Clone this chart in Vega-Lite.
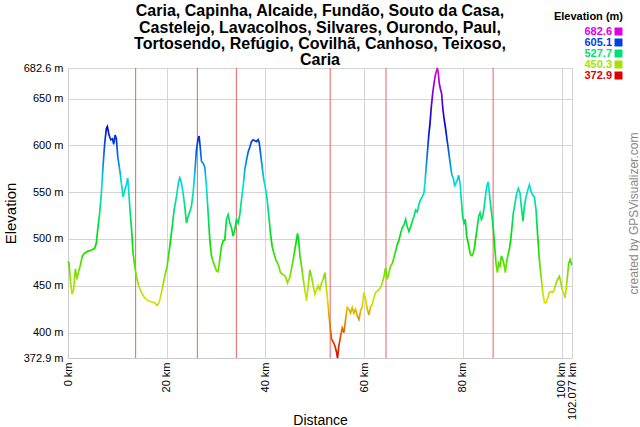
{
  "$schema": "https://vega.github.io/schema/vega-lite/v6.json",
  "width": 504,
  "height": 290,
  "autosize": {"type": "none"},
  "padding": {"left": 68, "top": 68, "right": 68, "bottom": 69},
  "background": "white",
  "config": {"font": "Liberation Sans", "view": {"stroke": null}},
  "title": {
    "text": ["Caria, Capinha, Alcaide, Fundão, Souto da Casa,", "Castelejo, Lavacolhos, Silvares, Ourondo, Paul,", "Tortosendo, Refúgio, Covilhã, Canhoso, Teixoso,", "Caria"],
    "fontSize": 16, "fontWeight": "bold", "font": "Liberation Sans", "color": "#000",
    "anchor": "middle", "frame": "group", "lineHeight": 16.2, "offset": 0, "dy": 57
  },
  "datasets": {
    "waypoints": [{"km": 13.7}, {"km": 26.2}, {"km": 34.1}, {"km": 53.1}, {"km": 64.4}, {"km": 86.1}],
    "legendvals": [{"v": 682.6}, {"v": 605.1}, {"v": 527.7}, {"v": 450.3}, {"v": 372.9}],
    "profile": [
      {"km": 0.0, "elev": 476}, {"km": 0.2, "elev": 474}, {"km": 0.47, "elev": 457}, {"km": 0.81, "elev": 441}, {"km": 1.15, "elev": 446},
      {"km": 1.49, "elev": 468}, {"km": 1.82, "elev": 457}, {"km": 2.09, "elev": 464}, {"km": 2.5, "elev": 472}, {"km": 2.91, "elev": 482},
      {"km": 3.38, "elev": 485}, {"km": 4.05, "elev": 487}, {"km": 4.73, "elev": 488}, {"km": 5.41, "elev": 490}, {"km": 5.74, "elev": 496},
      {"km": 6.08, "elev": 513}, {"km": 6.42, "elev": 528}, {"km": 6.76, "elev": 549}, {"km": 7.09, "elev": 577}, {"km": 7.43, "elev": 602},
      {"km": 7.77, "elev": 618}, {"km": 7.97, "elev": 620}, {"km": 8.31, "elev": 611}, {"km": 8.65, "elev": 606}, {"km": 8.99, "elev": 607},
      {"km": 9.26, "elev": 601}, {"km": 9.53, "elev": 611}, {"km": 9.8, "elev": 607}, {"km": 10.07, "elev": 588}, {"km": 10.47, "elev": 574},
      {"km": 10.81, "elev": 560}, {"km": 11.15, "elev": 545}, {"km": 11.49, "elev": 552}, {"km": 11.82, "elev": 558}, {"km": 12.09, "elev": 565},
      {"km": 12.3, "elev": 552}, {"km": 12.5, "elev": 535}, {"km": 12.84, "elev": 513}, {"km": 13.18, "elev": 485}, {"km": 13.51, "elev": 471},
      {"km": 13.85, "elev": 460}, {"km": 14.32, "elev": 450}, {"km": 14.86, "elev": 443}, {"km": 15.54, "elev": 437}, {"km": 16.22, "elev": 434},
      {"km": 16.89, "elev": 433}, {"km": 17.57, "elev": 432}, {"km": 18.04, "elev": 429}, {"km": 18.45, "elev": 432}, {"km": 18.78, "elev": 439},
      {"km": 19.12, "elev": 448}, {"km": 19.59, "elev": 460}, {"km": 20.07, "elev": 471}, {"km": 20.61, "elev": 492}, {"km": 21.08, "elev": 512},
      {"km": 21.49, "elev": 531}, {"km": 21.96, "elev": 545}, {"km": 22.36, "elev": 560}, {"km": 22.64, "elev": 565}, {"km": 22.97, "elev": 560},
      {"km": 23.31, "elev": 549}, {"km": 23.65, "elev": 535}, {"km": 23.99, "elev": 517}, {"km": 24.32, "elev": 524}, {"km": 24.66, "elev": 529},
      {"km": 25.0, "elev": 535}, {"km": 25.34, "elev": 549}, {"km": 25.68, "elev": 570}, {"km": 26.01, "elev": 595}, {"km": 26.35, "elev": 607},
      {"km": 26.55, "elev": 610}, {"km": 26.76, "elev": 599}, {"km": 27.03, "elev": 583}, {"km": 27.36, "elev": 581}, {"km": 27.7, "elev": 577},
      {"km": 28.04, "elev": 556}, {"km": 28.38, "elev": 528}, {"km": 28.72, "elev": 499}, {"km": 29.05, "elev": 482}, {"km": 29.39, "elev": 476},
      {"km": 29.73, "elev": 471}, {"km": 30.07, "elev": 466}, {"km": 30.41, "elev": 465}, {"km": 30.74, "elev": 478}, {"km": 31.08, "elev": 492},
      {"km": 31.42, "elev": 498}, {"km": 31.76, "elev": 499}, {"km": 32.09, "elev": 521}, {"km": 32.43, "elev": 526}, {"km": 32.77, "elev": 517},
      {"km": 33.11, "elev": 512}, {"km": 33.45, "elev": 503}, {"km": 33.78, "elev": 510}, {"km": 34.12, "elev": 521}, {"km": 34.46, "elev": 517},
      {"km": 34.8, "elev": 526}, {"km": 35.14, "elev": 542}, {"km": 35.47, "elev": 556}, {"km": 35.81, "elev": 574}, {"km": 36.15, "elev": 584},
      {"km": 36.49, "elev": 593}, {"km": 36.82, "elev": 598}, {"km": 37.16, "elev": 604}, {"km": 37.5, "elev": 606}, {"km": 37.84, "elev": 605},
      {"km": 38.18, "elev": 604}, {"km": 38.51, "elev": 606}, {"km": 38.72, "elev": 603}, {"km": 38.99, "elev": 592}, {"km": 39.32, "elev": 577},
      {"km": 39.66, "elev": 563}, {"km": 40.0, "elev": 554}, {"km": 40.34, "elev": 542}, {"km": 40.68, "elev": 524}, {"km": 41.01, "elev": 506},
      {"km": 41.35, "elev": 492}, {"km": 41.69, "elev": 485}, {"km": 42.09, "elev": 478}, {"km": 42.57, "elev": 473}, {"km": 43.04, "elev": 464},
      {"km": 43.58, "elev": 462}, {"km": 44.05, "elev": 460}, {"km": 44.46, "elev": 453}, {"km": 44.93, "elev": 459}, {"km": 45.27, "elev": 468},
      {"km": 45.61, "elev": 478}, {"km": 45.95, "elev": 489}, {"km": 46.28, "elev": 499}, {"km": 46.49, "elev": 506}, {"km": 46.76, "elev": 497},
      {"km": 46.96, "elev": 482}, {"km": 47.3, "elev": 471}, {"km": 47.64, "elev": 457}, {"km": 47.97, "elev": 446}, {"km": 48.31, "elev": 434},
      {"km": 48.65, "elev": 450}, {"km": 48.99, "elev": 467}, {"km": 49.32, "elev": 460}, {"km": 49.66, "elev": 450}, {"km": 50.0, "elev": 441},
      {"km": 50.34, "elev": 446}, {"km": 50.68, "elev": 450}, {"km": 51.01, "elev": 446}, {"km": 51.35, "elev": 453}, {"km": 51.69, "elev": 457},
      {"km": 52.03, "elev": 464}, {"km": 52.36, "elev": 446}, {"km": 52.7, "elev": 428}, {"km": 53.04, "elev": 409}, {"km": 53.38, "elev": 393},
      {"km": 53.72, "elev": 390}, {"km": 54.05, "elev": 386}, {"km": 54.39, "elev": 379}, {"km": 54.59, "elev": 372.9}, {"km": 54.86, "elev": 386},
      {"km": 55.2, "elev": 396}, {"km": 55.54, "elev": 405}, {"km": 55.88, "elev": 400}, {"km": 56.22, "elev": 414}, {"km": 56.55, "elev": 427},
      {"km": 56.89, "elev": 425}, {"km": 57.23, "elev": 421}, {"km": 57.57, "elev": 427}, {"km": 57.9, "elev": 421}, {"km": 58.24, "elev": 425},
      {"km": 58.58, "elev": 418}, {"km": 58.92, "elev": 414}, {"km": 59.26, "elev": 423}, {"km": 59.59, "elev": 428}, {"km": 59.93, "elev": 443},
      {"km": 60.27, "elev": 436}, {"km": 60.61, "elev": 425}, {"km": 60.95, "elev": 419}, {"km": 61.28, "elev": 428}, {"km": 61.62, "elev": 430},
      {"km": 61.96, "elev": 437}, {"km": 62.3, "elev": 443}, {"km": 62.63, "elev": 444}, {"km": 62.97, "elev": 446}, {"km": 63.31, "elev": 448},
      {"km": 63.65, "elev": 453}, {"km": 63.99, "elev": 460}, {"km": 64.32, "elev": 469}, {"km": 64.66, "elev": 457}, {"km": 65.0, "elev": 464},
      {"km": 65.34, "elev": 471}, {"km": 65.68, "elev": 474}, {"km": 66.01, "elev": 480}, {"km": 66.35, "elev": 487}, {"km": 66.69, "elev": 494},
      {"km": 67.03, "elev": 499}, {"km": 67.36, "elev": 506}, {"km": 67.7, "elev": 512}, {"km": 68.04, "elev": 515}, {"km": 68.38, "elev": 521},
      {"km": 68.72, "elev": 513}, {"km": 69.05, "elev": 508}, {"km": 69.39, "elev": 513}, {"km": 69.73, "elev": 519}, {"km": 70.07, "elev": 524},
      {"km": 70.41, "elev": 531}, {"km": 70.74, "elev": 529}, {"km": 71.08, "elev": 537}, {"km": 71.42, "elev": 542}, {"km": 71.76, "elev": 545},
      {"km": 72.09, "elev": 549}, {"km": 72.3, "elev": 560}, {"km": 72.5, "elev": 574}, {"km": 72.77, "elev": 591}, {"km": 73.04, "elev": 609},
      {"km": 73.31, "elev": 623}, {"km": 73.58, "elev": 641}, {"km": 73.85, "elev": 655}, {"km": 74.12, "elev": 666}, {"km": 74.39, "elev": 675},
      {"km": 74.66, "elev": 680}, {"km": 74.8, "elev": 682.6}, {"km": 75.0, "elev": 677}, {"km": 75.2, "elev": 666}, {"km": 75.47, "elev": 659},
      {"km": 75.68, "elev": 655}, {"km": 75.88, "elev": 641}, {"km": 76.15, "elev": 629}, {"km": 76.42, "elev": 620}, {"km": 76.69, "elev": 609},
      {"km": 76.96, "elev": 599}, {"km": 77.23, "elev": 588}, {"km": 77.5, "elev": 577}, {"km": 77.77, "elev": 568}, {"km": 78.04, "elev": 565},
      {"km": 78.31, "elev": 556}, {"km": 78.58, "elev": 560}, {"km": 78.85, "elev": 563}, {"km": 79.12, "elev": 568}, {"km": 79.39, "elev": 560},
      {"km": 79.66, "elev": 542}, {"km": 79.93, "elev": 524}, {"km": 80.2, "elev": 517}, {"km": 80.47, "elev": 521}, {"km": 80.74, "elev": 503},
      {"km": 81.01, "elev": 497}, {"km": 81.28, "elev": 489}, {"km": 81.55, "elev": 483}, {"km": 81.82, "elev": 482}, {"km": 82.09, "elev": 485},
      {"km": 82.36, "elev": 492}, {"km": 82.63, "elev": 503}, {"km": 82.9, "elev": 513}, {"km": 83.17, "elev": 524}, {"km": 83.45, "elev": 528},
      {"km": 83.72, "elev": 521}, {"km": 83.99, "elev": 524}, {"km": 84.26, "elev": 533}, {"km": 84.53, "elev": 545}, {"km": 84.8, "elev": 556},
      {"km": 85.07, "elev": 561}, {"km": 85.34, "elev": 549}, {"km": 85.61, "elev": 535}, {"km": 85.88, "elev": 524}, {"km": 86.15, "elev": 510},
      {"km": 86.42, "elev": 492}, {"km": 86.69, "elev": 474}, {"km": 86.96, "elev": 464}, {"km": 87.23, "elev": 474}, {"km": 87.5, "elev": 471},
      {"km": 87.77, "elev": 482}, {"km": 88.04, "elev": 478}, {"km": 88.31, "elev": 473}, {"km": 88.58, "elev": 464}, {"km": 88.85, "elev": 476},
      {"km": 89.12, "elev": 483}, {"km": 89.39, "elev": 489}, {"km": 89.66, "elev": 499}, {"km": 89.93, "elev": 513}, {"km": 90.2, "elev": 528},
      {"km": 90.54, "elev": 538}, {"km": 90.88, "elev": 549}, {"km": 91.22, "elev": 554}, {"km": 91.55, "elev": 549}, {"km": 91.89, "elev": 531},
      {"km": 92.16, "elev": 519}, {"km": 92.43, "elev": 535}, {"km": 92.77, "elev": 545}, {"km": 93.11, "elev": 552}, {"km": 93.45, "elev": 558},
      {"km": 93.78, "elev": 551}, {"km": 94.12, "elev": 547}, {"km": 94.46, "elev": 545}, {"km": 94.8, "elev": 531}, {"km": 95.13, "elev": 503},
      {"km": 95.47, "elev": 478}, {"km": 95.81, "elev": 460}, {"km": 96.15, "elev": 443}, {"km": 96.49, "elev": 432}, {"km": 96.82, "elev": 432},
      {"km": 97.16, "elev": 437}, {"km": 97.5, "elev": 443}, {"km": 97.84, "elev": 444}, {"km": 98.18, "elev": 443}, {"km": 98.51, "elev": 446},
      {"km": 98.85, "elev": 453}, {"km": 99.19, "elev": 457}, {"km": 99.53, "elev": 460}, {"km": 99.8, "elev": 454}, {"km": 100.07, "elev": 446},
      {"km": 100.34, "elev": 443}, {"km": 100.68, "elev": 437}, {"km": 100.88, "elev": 446}, {"km": 101.15, "elev": 460}, {"km": 101.42, "elev": 474},
      {"km": 101.69, "elev": 478}, {"km": 101.96, "elev": 473}, {"km": 102.077, "elev": 474}
    ]
  },
  "resolve": {"axis": {"y": "independent"}},
  "layer": [
    {
      "data": {"name": "waypoints"},
      "mark": {"type": "rule", "stroke": "#f06060", "strokeWidth": 1},
      "encoding": {
        "x": {
          "field": "km", "type": "quantitative",
          "scale": {"domain": [0, 102.077], "nice": false, "zero": false},
          "axis": {
            "values": [0, 20, 40, 60, 80, 100, 102.077],
            "labelExpr": "datum.value + ' km'",
            "labelAngle": 270, "labelFontSize": 11, "labelColor": "#000", "labelPadding": 4,
            "labelOverlap": false, "labelFlush": false, "labelBound": false,
            "ticks": false, "grid": true, "gridColor": "#d4d4d4", "domainColor": "#cccccc",
            "title": "Distance", "titleFontSize": 14, "titleFontWeight": "normal", "titleColor": "#000", "titlePadding": -6
          }
        }
      }
    },
    {
      "data": {"name": "profile"},
      "mark": {
        "type": "line", "strokeWidth": 1.7, "interpolate": "linear",
        "stroke": {
          "gradient": "linear", "x1": 0, "y1": 0, "x2": 0, "y2": 1,
          "stops": [
            {"offset": 0, "color": "#e000e0"}, {"offset": 0.1, "color": "#7000e0"}, {"offset": 0.2, "color": "#0000e0"},
            {"offset": 0.3, "color": "#0070e0"}, {"offset": 0.4, "color": "#00e0e0"}, {"offset": 0.5, "color": "#00e070"},
            {"offset": 0.6, "color": "#00e000"}, {"offset": 0.7, "color": "#70e000"}, {"offset": 0.8, "color": "#e0e000"},
            {"offset": 0.9, "color": "#e07000"}, {"offset": 1, "color": "#e00000"}
          ]
        }
      },
      "encoding": {
        "x": {"field": "km", "type": "quantitative", "scale": {"domain": [0, 102.077], "nice": false, "zero": false}},
        "y": {
          "field": "elev", "type": "quantitative",
          "scale": {"domain": [372.9, 682.6], "nice": false, "zero": false},
          "axis": {
            "values": [372.9, 400, 450, 500, 550, 600, 650, 682.6],
            "labelExpr": "datum.value + ' m'",
            "labelFontSize": 11, "labelColor": "#000", "labelPadding": 5,
            "labelOverlap": false, "labelFlush": false, "labelBound": false,
            "ticks": false, "grid": true, "gridColor": "#d4d4d4", "domainColor": "#cccccc",
            "title": "Elevation", "titleFontSize": 15, "titleFontWeight": "normal", "titleColor": "#000", "titlePadding": 5
          }
        }
      }
    },
    {
      "data": {"name": "legendvals"},
      "mark": {"type": "square", "opacity": 0},
      "encoding": {
        "y": {
          "field": "v", "type": "quantitative",
          "scale": {"domain": [372.9, 682.6], "nice": false, "zero": false},
          "axis": {
            "orient": "right", "title": "created by GPSVisualizer.com", "labels": false, "ticks": false,
            "domain": false, "grid": false, "titleAngle": 270, "titleFontSize": 12, "titleFontWeight": "normal",
            "titleColor": "#888888", "titlePadding": 68
          }
        },
        "color": {
          "field": "v", "type": "ordinal",
          "scale": {"domain": [682.6, 605.1, 527.7, 450.3, 372.9], "range": ["#e000e0", "#0040e0", "#00e070", "#a8e000", "#e00000"]},
          "legend": {
            "title": "Elevation (m)", "orient": "none", "legendX": 486, "legendY": -57,
            "symbolType": "square", "symbolSize": 64, "symbolOpacity": 1, "symbolStrokeWidth": 0,
            "labelFontSize": 11, "labelFontWeight": "bold", "labelFont": "Liberation Sans",
            "labelAlign": "right", "labelOffset": -12,
            "labelExpr": "'          ' + datum.label",
            "labelColor": {"expr": "scale('color', datum.value)"},
            "titleFontSize": 11, "titleFont": "Liberation Sans", "titleFontWeight": "bold", "titleColor": "#000",
            "titleAnchor": "end", "titlePadding": 4, "rowPadding": -1, "padding": 0
          }
        }
      }
    }
  ]
}
